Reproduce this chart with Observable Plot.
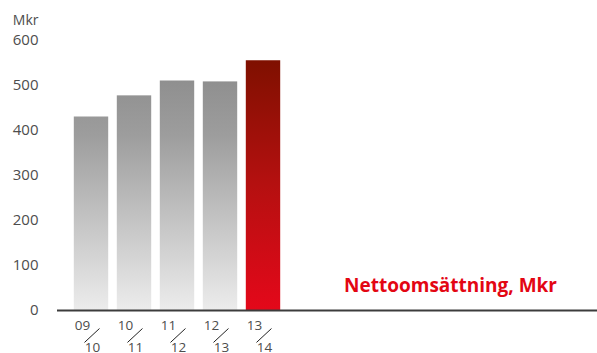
<!DOCTYPE html>
<html>
<head>
<meta charset="utf-8">
<script src="https://cdn.jsdelivr.net/npm/d3@7"></script>
<script src="https://cdn.jsdelivr.net/npm/@observablehq/plot@0.6"></script>
<style>
  html, body { margin: 0; padding: 0; background: #fff; }
  #chart svg { display: block; overflow: visible; }
</style>
</head>
<body>
<div id="chart"></div>
<script>
const yearsFrom = ["09", "10", "11", "12", "13"];
const yearsTo = ["10", "11", "12", "13", "14"];
const values = [430, 477, 510, 508, 555];
const yTicks = [0, 100, 200, 300, 400, 500, 600];
const unitLabel = "Mkr";
const title = "Nettoomsättning, Mkr";

const data = values.map((v, i) => ({i, from: yearsFrom[i], to: yearsTo[i], value: v}));
const past = data.slice(0, -1);
const latest = data.slice(-1);

const font = "'Open Sans', 'Noto Sans', sans-serif";
const textColor = "#4d4d4d";

const chart = Plot.plot({
  width: 597,
  height: 353,
  marginLeft: 57,
  marginRight: 0,
  marginTop: 40,
  marginBottom: 43,
  style: {fontFamily: font, background: "transparent"},
  x: {domain: [0, 4], range: [91, 263], axis: null},
  y: {domain: [0, 600], ticks: yTicks, label: null},
  marks: [
    Plot.axisY({ticks: yTicks, tickSize: 0, tickPadding: 19, fontSize: 15, fill: textColor, label: null}),
    Plot.rectY(past, {x1: d => d.i - 0.4, x2: d => d.i + 0.4, y: "value", fill: "url(#gradGray)"}),
    Plot.rectY(latest, {x1: d => d.i - 0.4, x2: d => d.i + 0.4, y: "value", fill: "url(#gradRed)"}),
    Plot.ruleY([0], {stroke: "#3c3c3c", strokeWidth: 2}),
    Plot.text(data, {x: "i", y: 0, text: "from", dx: -9, dy: 14.8, fontSize: 13.5, fill: textColor}),
    Plot.text(data, {x: "i", y: 0, text: "to", dx: 1, dy: 37, fontSize: 13.5, fill: textColor}),
    Plot.link(data, {x1: d => d.i - 0.163, y1: -71, x2: d => d.i + 0.186, y2: -40, stroke: "#222", strokeWidth: 1}),
    Plot.text([unitLabel], {frameAnchor: "top-left", dx: -19, dy: -19.5, textAnchor: "end", lineAnchor: "middle", fontSize: 14, fill: textColor}),
    Plot.text([title], {frameAnchor: "bottom-right", dx: -147, dy: -25, textAnchor: "middle", lineAnchor: "middle", fontSize: 19, fontWeight: "bold", fill: "#e30613"})
  ]
});

const ns = "http://www.w3.org/2000/svg";
const defs = document.createElementNS(ns, "defs");
function grad(id, stops) {
  const g = document.createElementNS(ns, "linearGradient");
  g.setAttribute("id", id);
  g.setAttribute("gradientUnits", "userSpaceOnUse");
  g.setAttribute("x1", 0); g.setAttribute("x2", 0);
  g.setAttribute("y1", 60); g.setAttribute("y2", 310);
  for (const [o, c] of stops) {
    const s = document.createElementNS(ns, "stop");
    s.setAttribute("offset", o);
    s.setAttribute("stop-color", c);
    g.appendChild(s);
  }
  defs.appendChild(g);
}
grad("gradGray", [[0, "#8a8a8a"], [0.3, "#9d9d9d"], [1, "#ececec"]]);
grad("gradRed", [[0, "#7f1000"], [0.5, "#b51010"], [1, "#e4081a"]]);
chart.insertBefore(defs, chart.firstChild);

document.getElementById("chart").appendChild(chart);
</script>
</body>
</html>
